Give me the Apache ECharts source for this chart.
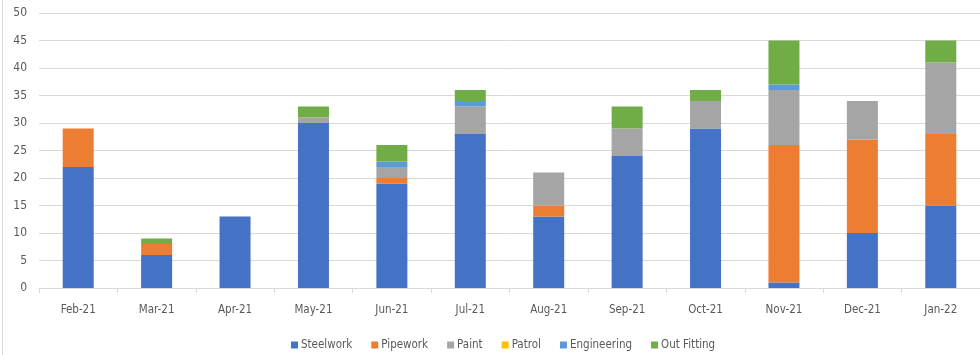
<!DOCTYPE html>
<html>
<head>
<meta charset="utf-8">
<script src="https://cdn.jsdelivr.net/npm/echarts@6/dist/echarts.min.js"></script>
<style>
  html, body { margin: 0; padding: 0; background: #fff; }
  #chart { width: 980px; height: 355px; }
</style>
</head>
<body>
<div id="chart"></div>
<script>
// Monthly workload by trade
const months = ['Feb-21', 'Mar-21', 'Apr-21', 'May-21', 'Jun-21', 'Jul-21', 'Aug-21', 'Sep-21', 'Oct-21', 'Nov-21', 'Dec-21', 'Jan-22'];
const steelwork   = [22, 6, 13, 30, 19, 28, 13, 24, 29, 1, 10, 15];
const pipework    = [7, 2, 0, 0, 1, 0, 2, 0, 0, 25, 17, 13];
const paint       = [0, 0, 0, 1, 2, 5, 6, 5, 5, 10, 7, 13];
const patrol      = [0, 0, 0, 0, 0, 0, 0, 0, 0, 0, 0, 0];
const engineering = [0, 0, 0, 0, 1, 1, 0, 0, 0, 1, 0, 0];
const outFitting  = [0, 1, 0, 2, 3, 2, 0, 4, 2, 8, 0, 4];
const yTicks = [0, 5, 10, 15, 20, 25, 30, 35, 40, 45, 50];

const seriesDefs = [
  { name: 'Steelwork', data: steelwork, color: '#4472C4' },
  { name: 'Pipework', data: pipework, color: '#ED7D31' },
  { name: 'Paint', data: paint, color: '#A5A5A5' },
  { name: 'Patrol', data: patrol, color: '#FFC000' },
  { name: 'Engineering', data: engineering, color: '#5B9BD5' },
  { name: 'Out Fitting', data: outFitting, color: '#70AD47' }
];

const font = '"DejaVu Sans Condensed", "Liberation Sans", sans-serif';
const textColor = '#595959';
const gridColor = '#d9d9d9';

const chart = echarts.init(document.getElementById('chart'), null, { renderer: 'canvas' });
chart.setOption({
  animation: false,
  textStyle: { fontFamily: font },
  grid: { left: 39, right: -9, top: 13, bottom: 67 },
  legend: {
    bottom: -1,
    left: 286,
    itemWidth: 7,
    itemHeight: 7,
    itemGap: 19,
    icon: 'rect',
    textStyle: { color: textColor, fontSize: 11.5, fontFamily: font, padding: [0, 0, 0, -2] },
    data: seriesDefs.map(s => s.name)
  },
  xAxis: {
    type: 'category',
    data: months,
    axisLine: { lineStyle: { color: gridColor, width: 1 } },
    axisTick: { show: true, length: 5, lineStyle: { color: gridColor } },
    axisLabel: { color: textColor, fontSize: 11.5, margin: 16, fontFamily: font }
  },
  yAxis: {
    type: 'value',
    min: yTicks[0],
    max: yTicks[yTicks.length - 1],
    interval: yTicks[1] - yTicks[0],
    axisLine: { show: false },
    axisTick: { show: false },
    axisLabel: { color: textColor, fontSize: 12, margin: 12, fontFamily: font },
    splitLine: { lineStyle: { color: gridColor, width: 1 } }
  },
  series: seriesDefs.map(s => ({
    name: s.name,
    type: 'bar',
    stack: 'total',
    barWidth: 31,
    data: s.data,
    itemStyle: { color: s.color }
  })),
  graphic: [
    { type: 'line', shape: { x1: 2.5, y1: 0, x2: 2.5, y2: 355 }, style: { stroke: '#d9d9d9', lineWidth: 1 } }
  ]
});
</script>
</body>
</html>
